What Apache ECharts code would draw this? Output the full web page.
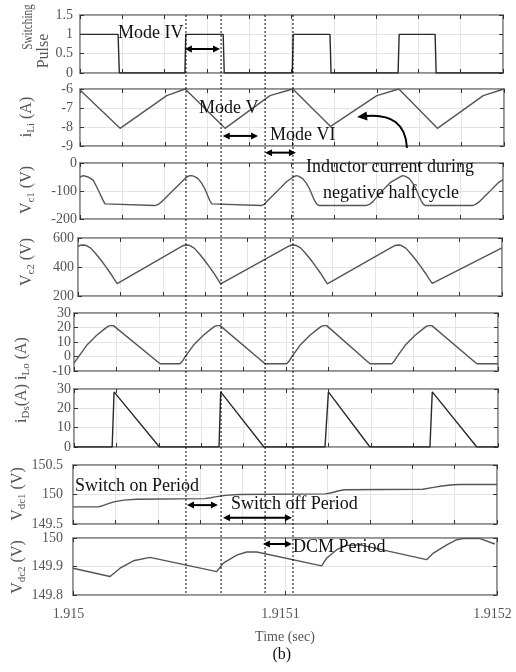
<!DOCTYPE html>
<html>
<head>
<meta charset="utf-8">
<script src="https://cdn.jsdelivr.net/npm/echarts@6/dist/echarts.min.js"></script>
<style>
html, body { margin: 0; padding: 0; background: #fff; }
#main { width: 516px; height: 672px; }
</style>
</head>
<body>
<div id="main"></div>
<script>
// time is in microseconds after 1.915 s
var xTickLabels = ['1.915', '1.9151', '1.9152'];

// switching pulse
var pulseT = [0, 18.0, 18.6, 49.6, 50.0, 67.7, 68.2, 100.4, 100.8, 118.2, 118.7, 150.4, 150.9, 167.9, 168.4, 200];
var pulseV = [1, 1, 0, 0, 1, 1, 0, 0, 1, 1, 0, 0, 1, 1, 0, 0];

// input inductor current iLi
var iLiT = [0, 18.9, 40.9, 49.6, 68.4, 89.6, 100.4, 118.2, 140.0, 150.4, 168.6, 190.2, 200];
var iLiV = [-6.05, -8.07, -6.35, -6.0, -8.07, -6.35, -6.0, -7.97, -6.35, -6.0, -8.07, -6.35, -6.0];

// capacitor voltage Vc1
var vc1T = [0, 1.6, 3.5, 5.0, 6.3, 7.8, 9.4, 10.7, 11.8, 12.6, 35.4, 37.0, 38.5, 42.5, 47.2,
  50.3, 51.5, 52.7, 54.0, 55.8, 57.5, 59.0, 60.3, 61.3, 62.3, 63.2, 85.7, 87.0, 88.1, 92.8, 97.5,
  100.6, 101.4, 102.2, 103.5, 105.3, 107.0, 108.5, 109.8, 110.8, 111.9, 112.9, 135.2, 136.8, 138.4, 142.3, 147.0,
  150.9, 151.7, 152.5, 153.9, 155.7, 157.3, 158.8, 160.1, 161.2, 162.2, 163.2, 185.5, 187.0, 188.7, 193.4, 198.1, 200];
var vc1V = [-50, -45, -49, -55, -62, -84, -109, -130, -146, -152, -152, -148, -139, -109, -74,
  -51, -46, -45, -48, -56, -72, -92, -115, -133, -146, -152, -152, -148, -139, -104, -68,
  -51, -46, -45, -48, -56, -72, -92, -115, -133, -146, -152, -152, -148, -139, -104, -68,
  -51, -46, -45, -48, -56, -72, -92, -115, -133, -146, -152, -152, -148, -139, -104, -68, -60];

// capacitor voltage Vc2
var vc2T = [0, 1.2, 2.5, 4.0, 6.0, 8.2, 10.7, 13.1, 15.3, 17.0, 18.5,
  48.9, 50.2, 51.3, 52.8, 54.8, 57.0, 59.5, 61.9, 64.1, 65.8, 67.3,
  99.2, 100.5, 101.6, 103.1, 105.1, 107.3, 109.8, 112.2, 114.4, 116.1, 117.6,
  148.7, 150.0, 151.1, 152.6, 154.6, 156.8, 159.3, 161.7, 163.9, 165.6, 167.1, 200];
var vc2V = [542, 550, 552, 548, 530, 495, 450, 403, 357, 318, 285,
  542, 550, 552, 548, 530, 495, 450, 403, 357, 318, 283,
  542, 550, 552, 548, 530, 495, 450, 403, 357, 318, 283,
  542, 550, 552, 548, 530, 495, 450, 403, 357, 318, 287, 532];

// output inductor current iLo
var iLoT = [0, 0.7, 2.1, 6.0, 10.7, 14.6, 16.0, 17.0, 18.6, 40.6,
  50.0, 51.0, 52.4, 56.3, 61.0, 64.9, 66.3, 67.3, 68.9, 90.1,
  100.3, 101.3, 102.7, 106.6, 111.3, 115.2, 116.6, 117.6, 119.2, 139.6,
  149.9, 150.9, 152.3, 156.2, 160.9, 164.8, 166.2, 167.2, 168.8, 190.0, 200];
var iLoV = [-4.6, -3.5, -0.3, 7.7, 14.6, 19.2, 20.8, 21.3, 21.3, -5,
  -5, -3.5, -0.3, 7.7, 14.6, 19.2, 20.8, 21.3, 21.3, -5,
  -5, -3.5, -0.3, 7.7, 14.6, 19.2, 20.8, 21.3, 21.3, -5,
  -5, -3.5, -0.3, 7.7, 14.6, 19.2, 20.8, 21.3, 21.3, -5, -5];

// diode current iDs
var iDsT = [0, 18.0, 18.9, 40.3, 68.4, 69.2, 89.6, 118.4, 120.0, 139.6, 167.9, 169.0, 190.0, 200];
var iDsV = [0, 0, 28.5, 0, 0, 28.5, 0, 0, 28.5, 0, 0, 28.5, 0, 0];

// dc link voltages
var vdc1T = [0, 11.9, 14.0, 17.0, 19.8, 24.0, 30.0, 62.0, 65.0, 67.0, 72.0, 78.0,
  119.0, 122.0, 125.0, 128.0, 165.0, 170.0, 174.0, 178.0, 182.0, 200];
var vdc1V = [149.79, 149.79, 149.81, 149.85, 149.88, 149.905, 149.92, 149.93, 149.945, 149.96, 149.985, 150.0,
  150.01, 150.03, 150.06, 150.08, 150.09, 150.12, 150.145, 150.16, 150.17, 150.17];

var vdc2T = [0, 17.5, 22.2, 28.5, 36.3, 67.8, 70.9, 77.2, 81.9, 86.7, 117.3, 119.7, 124.4, 129.1, 135.4,
  166.8, 170.0, 176.3, 181.0, 184.1, 192.0, 199];
var vdc2V = [149.894, 149.865, 149.894, 149.92, 149.932, 149.882, 149.912, 149.94, 149.951, 149.951, 149.902,
  149.93, 149.959, 149.974, 149.976, 149.924, 149.947, 149.976, 149.994, 149.998, 149.998, 149.979];

var yMin = [0, -9, -200, 200, -10, 0, 149.5, 149.8];
var yMax = [1.5, -6, 0, 600, 30, 30, 150.5, 150];
var yStep = [0.5, 1, 100, 200, 10, 10, 0.5, 0.1];

// mode boundaries (dotted lines), in time of the top panel
var modeTimes = [50.1, 66.7, 87.5, 100.7];

var serif = 'Liberation Serif';
var seriesT = [pulseT, iLiT, vc1T, vc2T, iLoT, iDsT, vdc1T, vdc2T];
var seriesV = [pulseV, iLiV, vc1V, vc2V, iLoV, iDsV, vdc1V, vdc2V];

// panel boxes: left, right, top, bottom
var boxes = [
    [80, 503, 15, 73],
    [80, 504, 89, 146],
    [80, 503, 163, 219],
    [78, 502, 238, 296],
    [74, 498, 313, 371],
    [74, 498, 389, 447],
    [73, 497, 465, 524],
    [73, 497, 538, 595]
];
var labelMargin = [7, 7, 3, 4, 3, 3, 10, 10];

var myChart = echarts.init(document.getElementById('main'));

var boxLine = {onZero: false, lineStyle: {color: '#8c8c8c', width: 1.5}};
var tick = {inside: true, length: 4, lineStyle: {color: '#333'}};
var gridLine = {show: true, lineStyle: {color: '#e4e4e4', width: 1}};

var grids = [], xAxes = [], yAxes = [], series = [];
for (var i = 0; i < 8; i++) {
    var b = boxes[i];
    grids.push({
        left: b[0], top: b[2], width: b[1] - b[0], height: b[3] - b[2],
        show: true, borderColor: '#8c8c8c', borderWidth: 1.5
    });
    xAxes.push({
        type: 'value', gridIndex: i, min: 0, max: 200, interval: i === 7 ? 100 : 20,
        axisLine: boxLine, axisTick: tick, splitLine: gridLine,
        axisLabel: {
            show: i === 7, margin: 12, fontFamily: serif, fontSize: 14, color: '#555',
            padding: [0, 9, 0, 0],
            formatter: function (v) { return xTickLabels[Math.round(v / 100)]; }
        },
        name: i === 7 ? 'Time (sec)' : '',
        nameLocation: 'middle', nameGap: 35,
        nameTextStyle: {fontFamily: serif, fontSize: 14, color: '#555'}
    });
    yAxes.push({
        type: 'value', gridIndex: i, min: yMin[i], max: yMax[i], interval: yStep[i],
        axisLine: boxLine, axisTick: tick, splitLine: gridLine,
        axisLabel: {
            margin: labelMargin[i], fontFamily: serif, fontSize: 14, color: '#555',
            formatter: function (v) { return String(+v.toFixed(2)); }
        }
    });
    var data = [];
    for (var k = 0; k < seriesT[i].length; k++) {
        data.push([seriesT[i][k], seriesV[i][k]]);
    }
    series.push({
        type: 'line', xAxisIndex: i, yAxisIndex: i, data: data,
        showSymbol: false,
        lineStyle: {color: i === 0 || i === 5 ? '#2a2a2a' : '#555', width: 1.4}
    });
}
// mirrored axes on top and right give the closed, ticked box
for (var j = 0; j < 8; j++) {
    xAxes.push({
        type: 'value', gridIndex: j, position: 'top', min: 0, max: 200, interval: j === 7 ? 100 : 20,
        axisLine: boxLine, axisTick: tick, splitLine: {show: false}, axisLabel: {show: false}
    });
    yAxes.push({
        type: 'value', gridIndex: j, position: 'right', min: yMin[j], max: yMax[j], interval: yStep[j],
        axisLine: boxLine, axisTick: tick, splitLine: {show: false}, axisLabel: {show: false}
    });
}

myChart.setOption({
    animation: false,
    grid: grids,
    xAxis: xAxes,
    yAxis: yAxes,
    series: series
});

function px(g, t, v) {
    return myChart.convertToPixel({xAxisIndex: g, yAxisIndex: g}, [t, v]);
}
// x taken from the top panel's time scale, y from panel g's value scale
function pt(t, g, v) {
    return [px(0, t, 1)[0], px(g, 0, v)[1]];
}

var graphics = [];

// dotted mode boundaries
modeTimes.forEach(function (t) {
    var top = pt(t, 0, 1.5), bottom = pt(t, 7, 149.8);
    graphics.push({
        type: 'line', z: 100,
        shape: {x1: top[0], y1: top[1], x2: bottom[0], y2: bottom[1]},
        style: {stroke: '#000', lineWidth: 1, lineDash: [2, 2]}
    });
});

function dblArrow(t1, t2, g, v) {
    var a = pt(t1, g, v), c = pt(t2, g, v);
    var y = a[1], h = 7, w = 3.5;
    graphics.push(
        {type: 'line', z: 100, shape: {x1: a[0] + h - 1, y1: y, x2: c[0] - h + 1, y2: y}, style: {stroke: '#000', lineWidth: 2}},
        {type: 'polygon', z: 100, shape: {points: [[a[0], y], [a[0] + h, y - w], [a[0] + h, y + w]]}, style: {fill: '#000'}},
        {type: 'polygon', z: 100, shape: {points: [[c[0], y], [c[0] - h, y - w], [c[0] - h, y + w]]}, style: {fill: '#000'}}
    );
}

function label(text, t, g, v, align) {
    var p = pt(t, g, v);
    graphics.push({
        type: 'text', z: 101, x: p[0], y: p[1],
        style: {text: text, fontFamily: serif, fontSize: 18, fill: '#111', align: align || 'left', verticalAlign: 'middle'}
    });
}

dblArrow(49.6, 66.2, 0, 0.62);
dblArrow(67.5, 84.2, 1, -8.47);
dblArrow(87.5, 102.1, 1, -9.35);
dblArrow(50.6, 65.2, 6, 149.82);
dblArrow(67.6, 100.2, 6, 149.607);
dblArrow(86.5, 100.2, 7, 149.979);

label('Mode IV', 18.0, 0, 1.034);
label('Mode V', 56.3, 1, -7.0);
label('Mode VI', 89.8, 1, -8.42);
label('Inductor current during', 146.6, 2, -14, 'center');
label('negative half cycle', 147.0, 2, -107, 'center');
label('Switch on Period', -2.4, 6, 150.14);
label('Switch off Period', 71.4, 6, 149.84);
label('DCM Period', 100.7, 7, 149.968);

// curved arrow pointing at the inductor current
(function () {
    var s = pt(154.6, 1, -9.1), c = pt(153.7, 1, -7.21), e = pt(131.0, 1, -7.47);
    var dx = e[0] - c[0], dy = e[1] - c[1], len = Math.sqrt(dx * dx + dy * dy);
    dx /= len; dy /= len;
    var h = 10, w = 4.5;
    var bx = e[0] - dx * h, by = e[1] - dy * h;
    graphics.push(
        {type: 'bezierCurve', z: 100, shape: {x1: s[0], y1: s[1], cpx1: c[0], cpy1: c[1], x2: bx + dx * 2, y2: by + dy * 2},
            style: {stroke: '#000', lineWidth: 2, fill: null}},
        {type: 'polygon', z: 100, shape: {points: [[e[0], e[1]], [bx - dy * w, by + dx * w], [bx + dy * w, by - dx * w]]},
            style: {fill: '#000'}}
    );
})();

// rotated y axis titles
var rich = {
    m: {fontFamily: serif, fontSize: 16, color: '#555', lineHeight: 20},
    s: {fontFamily: serif, fontSize: 11, color: '#555', lineHeight: 13, verticalAlign: 'bottom'}
};
// text, x, y, plain font size (0 = rich), squeeze along the text
var yTitles = [
    ['Switching', 28, 27, 14, 0.8],
    ['Pulse', 44, 51, 16, 1],
    ['{m|i}{s|Li}{m| (A)}', 27, 117, 0, 1],
    ['{m|V}{s|c1}{m| (V)}', 27, 190, 0, 1],
    ['{m|V}{s|c2}{m| (V)}', 27, 262, 0, 1],
    ['{m|i}{s|Ds}{m|(A) i}{s|Lo}{m| (A)}', 22, 380, 0, 1],
    ['{m|V}{s|dc1}{m| (V)}', 18, 494, 0, 1],
    ['{m|V}{s|dc2}{m| (V)}', 18, 567, 0, 1]
];
yTitles.forEach(function (d) {
    var st = {text: d[0], align: 'center', verticalAlign: 'middle', fill: '#555', fontFamily: serif};
    if (d[3]) {
        st.fontSize = d[3];
    } else {
        st.rich = rich;
    }
    graphics.push({type: 'text', z: 101, x: d[1], y: d[2], rotation: Math.PI / 2, scaleX: d[4], style: st});
});

graphics.push({
    type: 'text', z: 101, x: px(7, 98.5, 149.8)[0], y: 655,
    style: {text: '(b)', fontFamily: serif, fontSize: 16, fill: '#111', align: 'center', verticalAlign: 'middle'}
});

myChart.setOption({graphic: graphics});
</script>
</body>
</html>
